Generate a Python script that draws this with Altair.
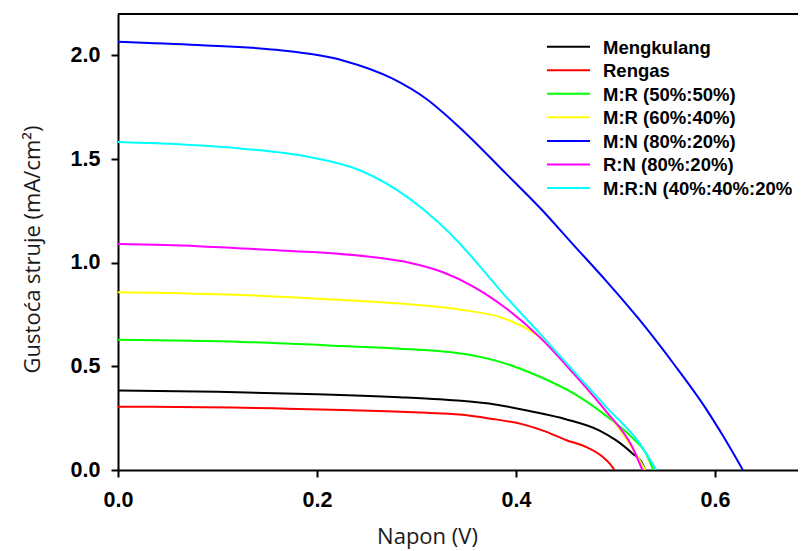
import altair as alt
import pandas as pd

series_names = ["Mengkulang", "Rengas", "M:R (50%:50%)", "M:R (60%:40%)",
                "M:N (80%:20%)", "R:N (80%:20%)", "M:R:N (40%:40%:20%"]
series_colors = ["#000000", "#ff0000", "#00ff00", "#ffff00", "#0000ff", "#ff00ff", "#00ffff"]

mengkulang_v = [0, 0.1, 0.2, 0.283, 0.323, 0.373, 0.417, 0.45, 0.484, 0.5, 0.517, 0.526, 0.53]
mengkulang_j = [0.383, 0.377, 0.366, 0.351, 0.341, 0.321, 0.281, 0.245, 0.19, 0.145, 0.08, 0.04, 0.0]

rengas_v = [0, 0.06, 0.115, 0.17, 0.226, 0.27, 0.31, 0.343, 0.373, 0.407, 0.43, 0.45, 0.47, 0.487, 0.494, 0.499]
rengas_j = [0.305, 0.304, 0.302, 0.296, 0.289, 0.283, 0.276, 0.268, 0.249, 0.22, 0.185, 0.145, 0.112, 0.064, 0.032, 0.0]

mr5050_v = [0, 0.125, 0.226, 0.283, 0.343, 0.383, 0.424, 0.457, 0.491, 0.517, 0.53, 0.538]
mr5050_j = [0.628, 0.618, 0.598, 0.585, 0.563, 0.523, 0.45, 0.372, 0.26, 0.155, 0.085, 0.0]

mr6040_v = [0, 0.109, 0.226, 0.283, 0.343, 0.39, 0.424, 0.457, 0.491, 0.515, 0.53]
mr6040_j = [0.858, 0.847, 0.82, 0.803, 0.774, 0.728, 0.64, 0.47, 0.28, 0.12, 0.0]

mn8020_v = [0, 0.08, 0.159, 0.226, 0.276, 0.31, 0.343, 0.39, 0.424, 0.457, 0.491, 0.524, 0.558, 0.591, 0.608, 0.628]
mn8020_j = [2.066, 2.05, 2.027, 1.976, 1.888, 1.79, 1.654, 1.43, 1.265, 1.09, 0.91, 0.725, 0.515, 0.295, 0.165, 0.0]

rn8020_v = [0, 0.08, 0.16, 0.2, 0.26, 0.293, 0.326, 0.357, 0.39, 0.424, 0.457, 0.491, 0.517, 0.527]
rn8020_j = [1.09, 1.08, 1.06, 1.05, 1.025, 1.0, 0.955, 0.885, 0.78, 0.64, 0.47, 0.28, 0.11, 0.0]

mrn_v = [0, 0.125, 0.192, 0.243, 0.293, 0.323, 0.343, 0.357, 0.39, 0.424, 0.457, 0.491, 0.524, 0.541]
mrn_j = [1.582, 1.55, 1.51, 1.446, 1.309, 1.19, 1.095, 1.02, 0.835, 0.658, 0.482, 0.302, 0.13, 0.0]

x_ticks = [0.0, 0.2, 0.4, 0.6]
y_ticks = [0.0, 0.5, 1.0, 1.5, 2.0]

all_v = [mengkulang_v, rengas_v, mr5050_v, mr6040_v, mn8020_v, rn8020_v, mrn_v]
all_j = [mengkulang_j, rengas_j, mr5050_j, mr6040_j, mn8020_j, rn8020_j, mrn_j]

rows = []
for name, vs, js in zip(series_names, all_v, all_j):
    for i, (v, j) in enumerate(zip(vs, js)):
        rows.append({"series": name, "V": v, "J": j, "idx": i})
df = pd.DataFrame(rows)

W, H = 680, 456
color_scale = alt.Scale(domain=series_names, range=series_colors)

lines = alt.Chart(df).mark_line(strokeWidth=2, clip=True, interpolate="monotone").encode(
    x=alt.X("V:Q", scale=alt.Scale(domain=[0, 0.6834], nice=False, zero=False),
            axis=alt.Axis(values=x_ticks, format=".1f", title="Napon (V)",
                          labelPadding=12, labelFlush=False, titleX=309, titleY=73,
                          titleAnchor="start", titleAlign="center", titleBaseline="alphabetic")),
    y=alt.Y("J:Q", scale=alt.Scale(domain=[0, 2.2], nice=False),
            axis=alt.Axis(values=y_ticks, format=".1f", title="Gustoća struje (mA/cm²)",
                          labelPadding=11, titleX=-86, titleY=235, titleAngle=-90,
                          titleAlign="center", titleBaseline="middle")),
    color=alt.Color("series:N", scale=color_scale, legend=None),
    detail="series:N",
    order="idx:Q",
)

top_line = alt.Chart(pd.DataFrame({"a": [0]})).mark_rule(color="black", strokeWidth=2).encode(
    x=alt.value(0), x2=alt.value(W), y=alt.value(0)
)

legend_df = pd.DataFrame({"series": series_names, "row": list(range(len(series_names)))})
leg_y = alt.Y("row:Q", scale=alt.Scale(domain=[0, 6], range=[32.7, 174]), axis=None)

leg_lines = alt.Chart(legend_df).mark_rule(strokeWidth=2).encode(
    x=alt.value(429), x2=alt.value(472), y=leg_y,
    color=alt.Color("series:N", scale=color_scale, legend=None),
)
leg_text = alt.Chart(legend_df).mark_text(
    align="left", baseline="middle", font="Liberation Sans", fontSize=18.5,
    fontWeight="bold", color="black", dy=1
).encode(x=alt.value(485), y=leg_y, text="series:N")

chart = alt.layer(lines, top_line, leg_lines, leg_text).resolve_scale(
    y="independent"
).properties(
    width=W, height=H,
    autosize=alt.AutoSizeParams(type="none"),
    padding={"left": 110, "top": 6, "right": 0, "bottom": 80},
).configure_view(stroke=None).configure_axis(
    grid=False, domainColor="black", domainWidth=2, tickColor="black", tickWidth=2,
    tickSize=7, labelFont="Liberation Sans", labelFontWeight="bold", labelFontSize=21.5,
    labelColor="black", titleFont="Open Sans", titleFontWeight="normal",
    titleFontSize=22, titleColor="#1a1a1a",
)

chart.save("out.html", embed_options={"renderer": "svg", "actions": False})
